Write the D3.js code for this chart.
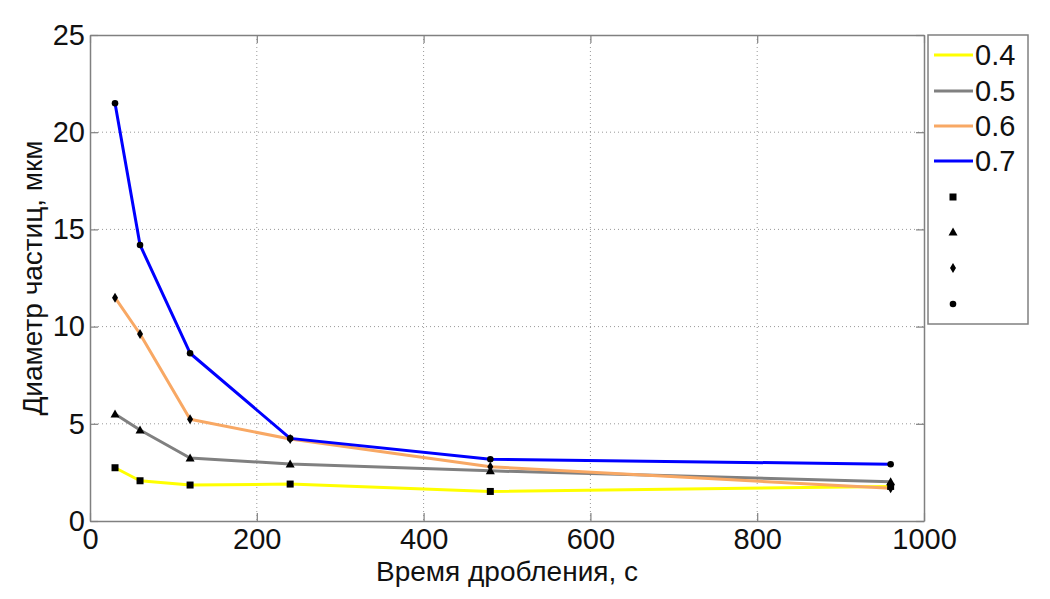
<!DOCTYPE html>
<html><head><meta charset="utf-8">
<script src="https://cdn.jsdelivr.net/npm/d3@7"></script>
<style>
body{margin:0;background:#fff;}
text{font-family:"Liberation Sans",Arial,sans-serif;fill:#111;}
</style></head>
<body>
<svg id="c" width="1050" height="599"></svg>
<script>
const times = [30, 60, 120, 240, 480, 960];
const seriesNames = ["0.4", "0.5", "0.6", "0.7"];
const s04 = [2.74, 2.07, 1.85, 1.90, 1.52, 1.78];
const s05 = [5.50, 4.68, 3.24, 2.93, 2.58, 2.02];
const s06 = [11.49, 9.62, 5.23, 4.22, 2.79, 1.68];
const s07 = [21.49, 14.20, 8.63, 4.25, 3.18, 2.92];
const colors = ["#ffff00", "#808080", "#f8a864", "#0000ff"];
const markers = ["square", "triangle", "diamond", "circle"];
const xTicks = [0, 200, 400, 600, 800, 1000];
const yTicks = [0, 5, 10, 15, 20, 25];
const xTitle = "Время дробления, с";
const yTitle = "Диаметр частиц, мкм";

const allSeries = [s04, s05, s06, s07];
const svg = d3.select("#c");
const L = 90, R = 924, T = 35, B = 521;
const x = d3.scaleLinear().domain([0, 1000]).range([L, R]);
const y = d3.scaleLinear().domain([0, 25]).range([B, T]);
const axisCol = "#808080";
const fs = 29;
const fsTitle = 28;

// grid
const g = svg.append("g");
g.selectAll(".gx").data(xTicks.slice(1, -1)).join("line")
  .attr("x1", d => x(d)).attr("x2", d => x(d)).attr("y1", T).attr("y2", B)
  .attr("stroke", "#999").attr("stroke-width", 1).attr("stroke-dasharray", "1,3");
g.selectAll(".gy").data(yTicks.slice(1, -1)).join("line")
  .attr("x1", L).attr("x2", R).attr("y1", d => y(d)).attr("y2", d => y(d))
  .attr("stroke", "#999").attr("stroke-width", 1).attr("stroke-dasharray", "1,3");

// axes via d3 axis (inner ticks)
const fmt = d3.format("d");
const xb = svg.append("g").attr("transform", `translate(0,${B})`)
  .call(d3.axisBottom(x).tickValues(xTicks).tickFormat(fmt).tickSizeInner(-8).tickSizeOuter(0).tickPadding(10));
const xt = svg.append("g").attr("transform", `translate(0,${T})`)
  .call(d3.axisTop(x).tickValues(xTicks).tickSizeInner(-8).tickSizeOuter(0).tickFormat(""));
const yl = svg.append("g").attr("transform", `translate(${L},0)`)
  .call(d3.axisLeft(y).tickValues(yTicks).tickFormat(fmt).tickSizeInner(-8).tickSizeOuter(0).tickPadding(5));
const yr = svg.append("g").attr("transform", `translate(${R},0)`)
  .call(d3.axisRight(y).tickValues(yTicks).tickSizeInner(-8).tickSizeOuter(0).tickFormat(""));
[xb, xt, yl, yr].forEach(a => {
  a.selectAll("path").attr("stroke", axisCol).attr("stroke-width", 1.5);
  a.selectAll("line").attr("stroke", axisCol).attr("stroke-width", 1.2);
  a.selectAll("text").attr("font-size", fs).attr("font-family", "Liberation Sans, Arial, sans-serif").attr("fill", "#111");
});
xb.selectAll("text").attr("dy", null).attr("y", 28);

// lines
const line = d3.line().x((d, i) => x(times[i])).y(d => y(d));
allSeries.forEach((s, k) => {
  svg.append("path").datum(s).attr("d", line).attr("fill", "none")
    .attr("stroke", colors[k]).attr("stroke-width", 3).attr("stroke-linejoin", "round");
});

function drawMarker(sel, type, cx, cy) {
  if (type === "square") {
    sel.append("rect").attr("x", cx - 3.5).attr("y", cy - 3.5).attr("width", 7).attr("height", 7).attr("fill", "#000");
  } else if (type === "triangle") {
    sel.append("path").attr("d", `M${cx},${cy - 4.5}L${cx + 4.5},${cy + 3.5}L${cx - 4.5},${cy + 3.5}Z`).attr("fill", "#000");
  } else if (type === "diamond") {
    sel.append("path").attr("d", `M${cx},${cy - 5}L${cx + 3},${cy}L${cx},${cy + 5}L${cx - 3},${cy}Z`).attr("fill", "#000");
  } else {
    sel.append("circle").attr("cx", cx).attr("cy", cy).attr("r", 3.3).attr("fill", "#000");
  }
}
allSeries.forEach((s, k) => {
  const mg = svg.append("g");
  s.forEach((v, i) => drawMarker(mg, markers[k], x(times[i]), y(v)));
});

// titles
svg.append("text").attr("x", (L + R) / 2).attr("y", 581).attr("text-anchor", "middle")
  .attr("font-size", fsTitle).text(xTitle);
svg.append("text").attr("transform", `translate(42,${(T + B) / 2}) rotate(-90)`).attr("text-anchor", "middle")
  .attr("font-size", fsTitle).text(yTitle);

// legend
const lg = svg.append("g");
lg.append("rect").attr("x", 928).attr("y", 35).attr("width", 100).attr("height", 289)
  .attr("fill", "#fff").attr("stroke", axisCol).attr("stroke-width", 1.5);
const legY = [55, 91, 126, 161];
seriesNames.forEach((n, k) => {
  lg.append("line").attr("x1", 934).attr("x2", 973).attr("y1", legY[k]).attr("y2", legY[k])
    .attr("stroke", colors[k]).attr("stroke-width", 3);
  lg.append("text").attr("x", 975).attr("y", legY[k]).attr("dy", "0.36em").attr("font-size", fs).text(n);
});
const mkY = [197, 232, 268, 304];
markers.forEach((m, k) => drawMarker(lg, m, 953, mkY[k]));
</script>
</body></html>
